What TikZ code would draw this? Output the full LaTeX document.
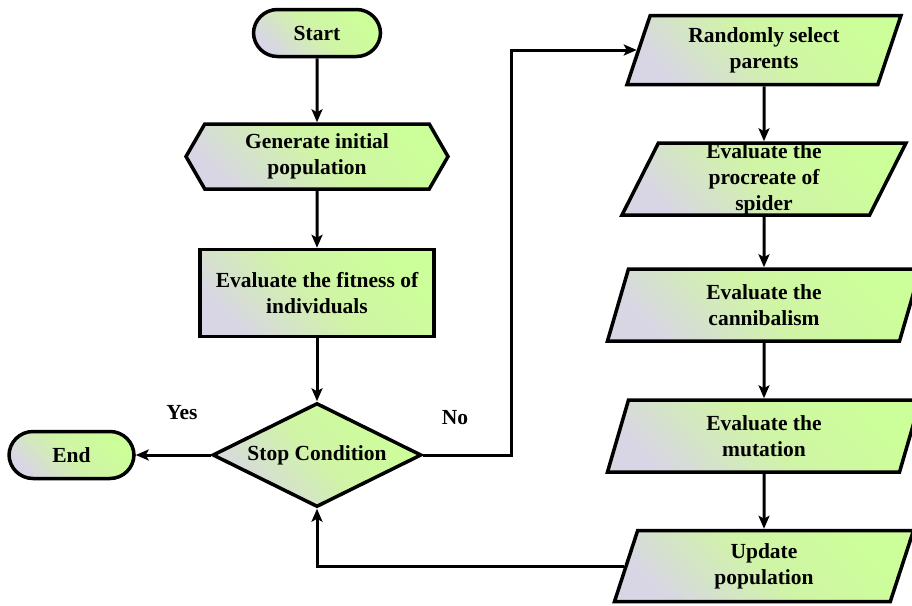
\documentclass[tikz,border=0pt]{standalone}
\usepackage{fontspec}
\setmainfont{Liberation Serif}
\usetikzlibrary{positioning, shapes.geometric, shapes.symbols, arrows.meta}

\definecolor{boxgreen}{RGB}{204,255,153}
\definecolor{boxmid}{RGB}{208,244,166}
\definecolor{boxgrey}{RGB}{216,214,228}

\tikzset{
    box/.style={draw, line width=3.5pt, top color=boxgreen, bottom color=boxgrey,
        middle color=boxmid, shading angle=-45, align=center, inner sep=0pt},
    term/.style={box, rounded corners=24pt, minimum width=127pt, minimum height=47pt},
    prep/.style={box, signal, signal to=west and east, signal pointer angle=120,
        minimum width=262pt, minimum height=65pt},
    proc/.style={box, rectangle, minimum width=234pt, minimum height=87pt},
    decide/.style={box, diamond, aspect=2, minimum width=209pt, minimum height=104pt},
    io/.style={box, trapezium, trapezium left angle=63, trapezium right angle=117,
        trapezium stretches body, minimum height=71pt}
}

\begin{document}
\begin{tikzpicture}[%
    x=1pt, y=-1pt,
    >={Stealth[length=13pt, width=11pt, inset=3pt]},
    line width=3pt,
    every node/.style={font=\fontsize{21.5}{26}\selectfont\bfseries}
]
\useasboundingbox (0,0) rectangle (912,605);

% left column
\node[term] (start) at (317,33) {Start};
\node[prep, below=64pt of start] (init) {Generate initial\\population};
\node[proc, below=57pt of init] (fitness) {Evaluate the fitness of\\individuals};
\node[decide, below=63pt of fitness] (cond) {Stop Condition};
\node[term, minimum width=125pt, left=75pt of cond] (end) {End};

% right column
\node[io, minimum width=274pt, minimum height=69pt] (select) at (764,50)
    {Randomly select\\parents};
\node[io, minimum width=284pt, minimum height=72pt] (procreate) at (764,179)
    {Evaluate the\\procreate of\\spider};
\node[io, minimum width=313pt, minimum height=72pt] (cannibal) at (764,305)
    {Evaluate the\\cannibalism};
\node[io, minimum width=313pt, minimum height=72pt] (mutation) at (764,436)
    {Evaluate the\\mutation};
\node[io, minimum width=299pt] (update) at (764,566)
    {Update\\population};

% labels
\node (yes) at (182,413) {Yes};
\node (no) at (455,418) {No};
\coordinate (turn) at (511,51);

% edges
\draw[->] (start) -- (init);
\draw[->] (init) -- (fitness);
\draw[->] (fitness) -- (cond);
\draw[->] (cond) -- (end);
\draw[->] (cond.east) -- (cond.east -| turn) |- (select.west);
\draw[->] (select) -- (procreate);
\draw[->] (procreate) -- (cannibal);
\draw[->] (cannibal) -- (mutation);
\draw[->] (mutation) -- (update);
\draw[->] (update.west) -| (cond.south);

\end{tikzpicture}
\end{document}
